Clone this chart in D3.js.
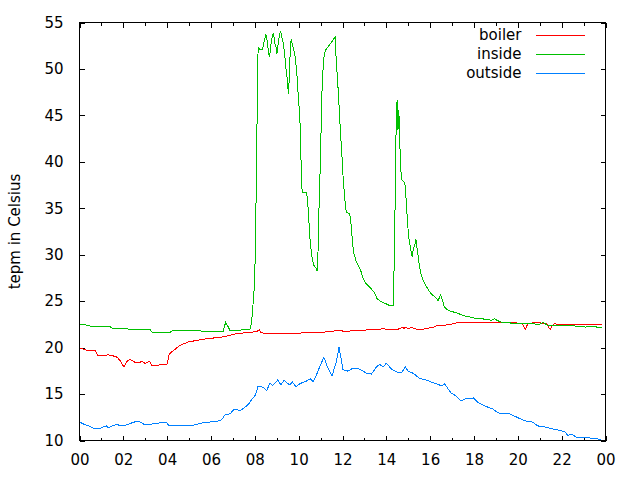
<!DOCTYPE html>
<html><head><meta charset="utf-8">
<script src="https://cdn.jsdelivr.net/npm/d3@7"></script>
<style>body{margin:0;background:#fff}svg{display:block}</style>
</head><body>
<script>
// ---- data (hours of day, temperature in Celsius) ----
const seriesNames = ["boiler", "inside", "outside"];
const seriesColors = ["#ff0000", "#00c000", "#0080ff"];
const xTickValues = [0,2,4,6,8,10,12,14,16,18,20,22,24];
const xTickLabels = ["00","02","04","06","08","10","12","14","16","18","20","22","00"];
const xMinorTicks = [1,3,5,7,9,11,13,15,17,19,21,23];
const yTickValues = [10,15,20,25,30,35,40,45,50,55];

const boilerTime = [0,0.33,0.71,0.84,1.02,1.32,1.55,1.71,1.83,1.95,2.03,2.11,2.20,2.31,2.43,2.53,2.76,2.84,2.99,3.10,3.19,3.30,3.60,3.71,3.99,4.02,4.10,4.21,4.36,4.51,4.66,4.81,4.96,5.20,5.50,5.80,6.10,6.41,6.71,7.02,7.32,7.77,8.08,8.20,8.28,8.46,9.15,10.66,11.28,11.80,12.18,12.56,13.10,13.70,13.77,13.93,14.00,14.46,14.61,14.74,14.80,14.89,14.99,15.15,15.30,15.44,15.67,15.83,16.13,16.28,16.74,17.04,17.26,18.26,19.93,19.96,20.20,20.26,20.34,20.41,20.48,20.98,21.06,21.29,21.37,21.47,21.57,21.67,21.77,23.86];
const boilerTemp = [19.95,19.73,19.73,19.12,19.12,19.22,19.1,18.97,18.67,18.21,17.91,18.31,18.62,18.72,18.57,18.41,18.41,18.52,18.31,18.41,18.52,18.11,18.11,18.21,18.21,18.52,19.32,19.56,19.82,20.11,20.33,20.46,20.6,20.71,20.83,20.96,21.03,21.1,21.23,21.44,21.54,21.64,21.72,21.9,21.64,21.49,21.54,21.59,21.69,21.84,21.74,21.84,21.9,21.9,22.04,22.04,21.9,21.9,22.07,22.19,22.07,22.19,22.04,22.19,22.04,21.97,21.97,22.07,22.19,22.34,22.44,22.55,22.72,22.72,22.72,22.62,22.62,22.35,21.97,22.35,22.62,22.72,22.62,22.62,22.35,21.97,22.35,22.62,22.5,22.5];

const insideTime = [0,0.25,0.62,1.40,1.54,2.17,2.31,3.22,3.31,4.13,4.27,5.50,5.59,6.55,6.67,6.87,7.77,7.85,7.90,7.94,7.99,8.03,8.08,8.12,8.15,8.23,8.34,8.41,8.50,8.56,8.63,8.67,8.72,8.81,8.86,8.90,8.96,9.01,9.07,9.13,9.18,9.22,9.30,9.36,9.41,9.47,9.50,9.54,9.57,9.62,9.66,9.70,9.76,9.82,9.87,9.93,9.97,10.02,10.07,10.10,10.13,10.16,10.36,10.40,10.45,10.48,10.52,10.57,10.62,10.69,10.79,10.84,10.88,10.91,10.95,11.00,11.05,11.11,11.17,11.24,11.33,11.46,11.57,11.66,11.72,11.78,11.83,11.87,11.92,11.97,12.01,12.06,12.10,12.15,12.18,12.33,12.38,12.42,12.47,12.52,12.61,12.71,12.82,12.94,13.07,13.22,13.37,13.47,13.57,13.70,13.85,14.00,14.12,14.31,14.35,14.40,14.44,14.49,14.52,14.53,14.57,14.60,14.63,14.66,14.70,14.80,14.86,14.89,14.93,14.98,15.02,15.07,15.12,15.18,15.22,15.30,15.35,15.38,15.43,15.47,15.52,15.58,15.64,15.72,15.83,15.94,16.05,16.17,16.28,16.36,16.48,16.54,16.59,16.65,16.74,16.89,17.04,17.26,17.49,17.72,17.95,18.26,18.56,18.79,18.94,19.08,19.24,19.54,19.70,20.76,20.79,20.98,21.14,21.21,21.36,22.59,22.62,23.04,23.08,23.26,23.57,23.60,23.86];
const insideTemp = [22.55,22.45,22.25,22.25,22.04,22.04,21.94,21.94,21.64,21.64,21.84,21.84,21.74,21.74,22.75,21.84,21.94,22.65,24.05,25.46,26.92,31.61,40.02,48.13,52.33,52.1,52.05,52.76,53.72,53.11,51.65,51.25,52.36,53.72,53.82,52.76,52.46,51.65,52.76,53.82,53.97,53.57,52.76,51.65,50.24,49.13,48.08,47.32,49.13,52.16,53.26,52.76,52.16,51.65,50.59,49.13,47.52,45.91,43.8,40.88,38.22,36.75,36.75,35.89,34.43,33.02,31.61,30.5,29.59,28.89,28.54,28.24,29.99,33.37,36.95,40.57,46.82,49.84,51.65,52.05,52.36,52.76,53.11,53.46,50.59,48.63,46.62,44.7,42.69,40.88,38.96,37.35,36.04,35.04,34.53,34.43,33.52,32.31,31.06,30.15,29.39,28.89,28.39,27.48,26.92,26.57,26.17,25.87,25.31,25.02,24.86,24.71,24.56,24.51,28.18,35.34,42.69,46.62,45.41,43.39,45.61,43.24,40.88,39.16,38.06,37.85,37.5,36.45,34.94,33.12,31.91,31.21,30.5,29.8,30.5,31.06,31.66,31.06,30.3,29.39,28.69,27.98,27.48,27.03,26.57,26.12,25.77,25.56,25.31,25.06,25.67,25.22,24.86,24.36,24.16,23.95,23.85,23.7,23.45,23.35,23.2,23.12,23.05,22.95,23.12,22.9,22.75,22.75,22.62,22.62,22.51,22.51,22.7,22.62,22.4,22.4,22.3,22.3,22.2,22.3,22.3,22.2,22.2];

const outsideTime = [0,0.19,0.41,0.63,0.94,1.09,1.22,1.32,1.48,1.63,1.78,1.94,2.23,2.46,2.69,2.84,2.99,3.30,3.60,3.76,3.91,3.99,4.05,4.21,5.04,5.35,5.65,6.10,6.41,6.53,6.64,6.87,7.02,7.17,7.32,7.55,7.70,7.85,8.00,8.08,8.15,8.31,8.46,8.54,8.69,8.81,8.92,9.04,9.19,9.34,9.48,9.60,9.72,9.87,10.05,10.20,10.36,10.54,10.66,10.82,10.97,11.15,11.30,11.52,11.72,11.84,11.95,12.02,12.25,12.46,12.76,13.10,13.32,13.55,13.70,13.85,14.00,14.23,14.53,14.70,14.87,14.99,15.22,15.52,15.83,16.05,16.36,16.51,16.66,16.81,16.97,17.19,17.37,17.49,17.65,17.80,17.98,18.18,18.41,18.64,18.87,19.04,19.24,19.62,19.85,20.08,20.39,20.69,20.91,21.21,21.52,21.82,22.13,22.28,22.44,22.67,23.19,23.33,23.57,23.80];
const outsideTemp = [11.98,11.77,11.57,11.31,11.31,11.49,11.57,11.37,11.57,11.67,11.67,11.57,11.74,11.97,12.07,11.92,11.67,11.77,11.85,11.97,11.92,11.92,11.67,11.57,11.57,11.74,11.92,12.02,12.13,12.37,12.77,12.87,13.28,13.35,13.18,13.58,13.88,14.39,14.79,15.25,15.87,15.8,15.59,15.36,16.2,15.9,16.16,16.5,16.0,16.5,16.16,15.98,16.3,15.8,16.1,16.27,16.4,16.65,16.3,17.1,18.01,18.96,18.01,16.94,18.48,20.03,18.67,17.61,17.47,17.77,17.71,17.24,17.16,17.91,18.21,17.91,18.31,17.71,17.31,17.31,17.91,17.47,17.24,16.7,16.5,16.3,16.05,15.87,16.1,15.59,15.08,14.79,14.35,14.35,14.53,14.48,14.58,14.08,13.82,13.58,13.38,13.08,12.87,12.87,12.63,12.37,12.07,11.97,11.57,11.47,11.27,11.14,10.97,10.56,10.7,10.35,10.35,10.24,10.24,10.05];

const seriesTimes = [boilerTime, insideTime, outsideTime];
const seriesTemps = [boilerTemp, insideTemp, outsideTemp];

// ---- layout ----
const W = 640, H = 480;
const L = 79.5, R = 605.5, T = 22.5, B = 440.5;
const FONT = "'DejaVu Sans', sans-serif";
const FS = 15;

const svg = d3.select("body").append("svg").attr("width", W).attr("height", H)
  .style("background", "#fff");

const x = d3.scaleLinear().domain([0, 24]).range([L, R]);
const y = d3.scaleLinear().domain([10, 55]).range([B, T]);

function styleAxis(g) {
  g.select(".domain").remove();
  g.selectAll(".tick line").attr("stroke", "#000").attr("shape-rendering", "crispEdges");
  g.selectAll("text").attr("fill", "#000").attr("font-family", FONT).attr("font-size", FS);
  g.attr("font-family", FONT).attr("font-size", FS);
}

// bottom axis (major + minor)
svg.append("g").attr("transform", `translate(0,${B})`)
  .call(d3.axisBottom(x).tickValues(xTickValues).tickSize(-5).tickPadding(14)
    .tickFormat((d, i) => xTickLabels[i]))
  .call(styleAxis);
svg.append("g").attr("transform", `translate(0,${B})`)
  .call(d3.axisBottom(x).tickValues(xMinorTicks).tickSize(-3).tickFormat(""))
  .call(styleAxis);
// top mirror
svg.append("g").attr("transform", `translate(0,${T})`)
  .call(d3.axisTop(x).tickValues(xTickValues).tickSize(-5).tickFormat(""))
  .call(styleAxis);
svg.append("g").attr("transform", `translate(0,${T})`)
  .call(d3.axisTop(x).tickValues(xMinorTicks).tickSize(-3).tickFormat(""))
  .call(styleAxis);
// left axis
svg.append("g").attr("transform", `translate(${L},0)`)
  .call(d3.axisLeft(y).tickValues(yTickValues).tickSize(-5).tickPadding(16)
    .tickFormat(d3.format("d")))
  .call(styleAxis);
// right mirror
svg.append("g").attr("transform", `translate(${R},0)`)
  .call(d3.axisRight(y).tickValues(yTickValues).tickSize(-5).tickFormat(""))
  .call(styleAxis);

// y label
svg.append("text")
  .attr("transform", `translate(20,${(T + B) / 2}) rotate(-90)`)
  .attr("text-anchor", "middle")
  .attr("font-family", FONT).attr("font-size", FS).attr("fill", "#000")
  .text("tepm in Celsius");

// lines
const line = d3.line().x(d => x(d[0])).y(d => y(d[1]));
seriesNames.forEach((name, i) => {
  const pts = seriesTimes[i].map((t, k) => [t, seriesTemps[i][k]]);
  svg.append("path").datum(pts)
    .attr("d", line)
    .attr("fill", "none")
    .attr("stroke", seriesColors[i])
    .attr("stroke-width", 1)
    .attr("shape-rendering", "crispEdges");
});

// frame
svg.append("rect").attr("x", L).attr("y", T).attr("width", R - L).attr("height", B - T)
  .attr("fill", "none").attr("stroke", "#000").attr("stroke-width", 1)
  .attr("shape-rendering", "crispEdges");

// legend
const legY0 = 35, legDY = 19;
seriesNames.forEach((name, i) => {
  const yy = legY0 + i * legDY;
  svg.append("text").attr("x", 521.5).attr("y", yy).attr("dy", "0.35em")
    .attr("text-anchor", "end").attr("font-family", FONT).attr("font-size", FS)
    .attr("fill", "#000").text(name);
  svg.append("line").attr("x1", 536).attr("x2", 585).attr("y1", yy + 0.5).attr("y2", yy + 0.5)
    .attr("stroke", seriesColors[i]).attr("stroke-width", 1)
    .attr("shape-rendering", "crispEdges");
});
</script>
</body></html>
